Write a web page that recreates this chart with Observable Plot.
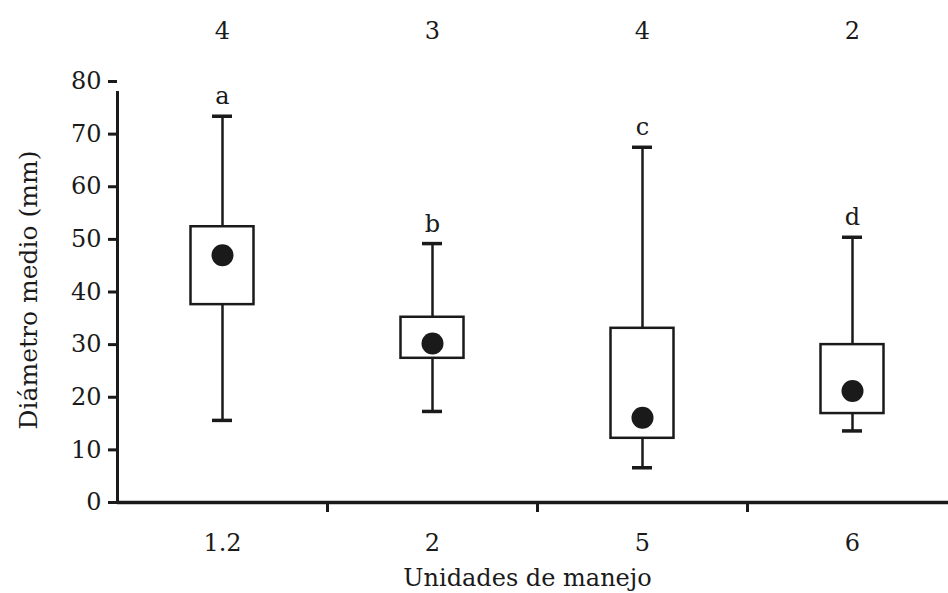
<!DOCTYPE html>
<html>
<head>
<meta charset="utf-8">
<script src="https://cdn.jsdelivr.net/npm/d3@7"></script>
<script src="https://cdn.jsdelivr.net/npm/@observablehq/plot@0.6"></script>
<style>
  html, body { margin: 0; padding: 0; background: #fff; overflow: hidden; }
  #chart svg { display: block; }
</style>
</head>
<body>
<div id="chart"></div>
<script>
const categories = ["1.2", "2", "5", "6"];
const whiskerLow = [15.6, 17.3, 6.6, 13.6];
const q1 = [37.6, 27.4, 12.2, 16.9];
const median = [47.0, 30.2, 16.1, 21.2];
const q3 = [52.4, 35.2, 33.1, 30.0];
const whiskerHigh = [73.4, 49.2, 67.5, 50.4];
const nLabels = ["4", "3", "4", "2"];
const letters = ["a", "b", "c", "d"];
const yTicks = [0, 10, 20, 30, 40, 50, 60, 70, 80];
const yLabel = "Diámetro medio (mm)";
const xLabel = "Unidades de manejo";

const data = categories.map((c, i) => ({
  cat: c, lo: whiskerLow[i], q1: q1[i], med: median[i], q3: q3[i], hi: whiskerHigh[i],
  n: nLabels[i], letter: letters[i]
}));

const W = 948, H = 593;
const mL = 117, mR = -9, mT = 81, mB = 91;
const step = (W - mL - mR) / categories.length;
const boxInset = (step - 63) / 2;
const capInset = (step - 20) / 2;
const font = "DejaVu Serif, serif";
const ink = "#1a1a1a";
const fs = 24;

const chart = Plot.plot({
  width: W,
  height: H,
  marginLeft: mL,
  marginRight: mR,
  marginTop: mT,
  marginBottom: mB,
  style: { fontFamily: font, color: ink, background: "#fff", overflow: "visible" },
  x: { type: "band", domain: categories, padding: 0, label: null },
  y: { domain: [0, 80], label: null },
  marks: [
    // whiskers
    Plot.ruleX(data, { x: "cat", y1: "lo", y2: "hi", stroke: ink, strokeWidth: 2.5 }),
    // whisker caps
    Plot.tickY(data, { x: "cat", y: "lo", stroke: ink, strokeWidth: 3.5, insetLeft: capInset, insetRight: capInset }),
    Plot.tickY(data, { x: "cat", y: "hi", stroke: ink, strokeWidth: 3.5, insetLeft: capInset, insetRight: capInset }),
    // boxes
    Plot.barY(data, { x: "cat", y1: "q1", y2: "q3", fill: "#fff", stroke: ink, strokeWidth: 2.5, insetLeft: boxInset, insetRight: boxInset }),
    // median dots
    Plot.dot(data, { x: "cat", y: "med", r: 11, fill: ink, stroke: "none" }),
    // significance letters
    Plot.text(data, { x: "cat", y: "hi", text: "letter", lineAnchor: "bottom", dy: -12, fontSize: fs, fill: ink }),
    // sample sizes on top
    Plot.text(data, { x: "cat", text: "n", frameAnchor: "top", dy: -60, fontSize: fs, fill: ink }),
    // y axis
    Plot.axisY({ ticks: yTicks, tickSize: 9, tickPadding: 7, fontSize: fs, strokeWidth: 3, label: null }),
    Plot.ruleX([categories[0]], { x: d => d, dx: -step / 2, y1: 0, y2: 80, insetBottom: -10, stroke: ink, strokeWidth: 3 }),
    // x axis line and boundary ticks
    Plot.ruleY([0], { stroke: ink, strokeWidth: 3.5 }),
    Plot.ruleX(categories.slice(1), { x: d => d, dx: -step / 2, y1: 0, y2: 0, insetBottom: -10, stroke: ink, strokeWidth: 3 }),
    Plot.axisX({ tickSize: 0, tickPadding: 31, fontSize: fs, label: null }),
    // axis titles
    Plot.text([xLabel], { frameAnchor: "bottom", dy: 83, dx: -10, fontSize: fs, fill: ink }),
    Plot.text([yLabel], { frameAnchor: "left", textAnchor: "middle", dx: -89, dy: -2, rotate: -90, fontSize: 25, fill: ink })
  ]
});

document.getElementById("chart").appendChild(chart);
</script>
</body>
</html>
